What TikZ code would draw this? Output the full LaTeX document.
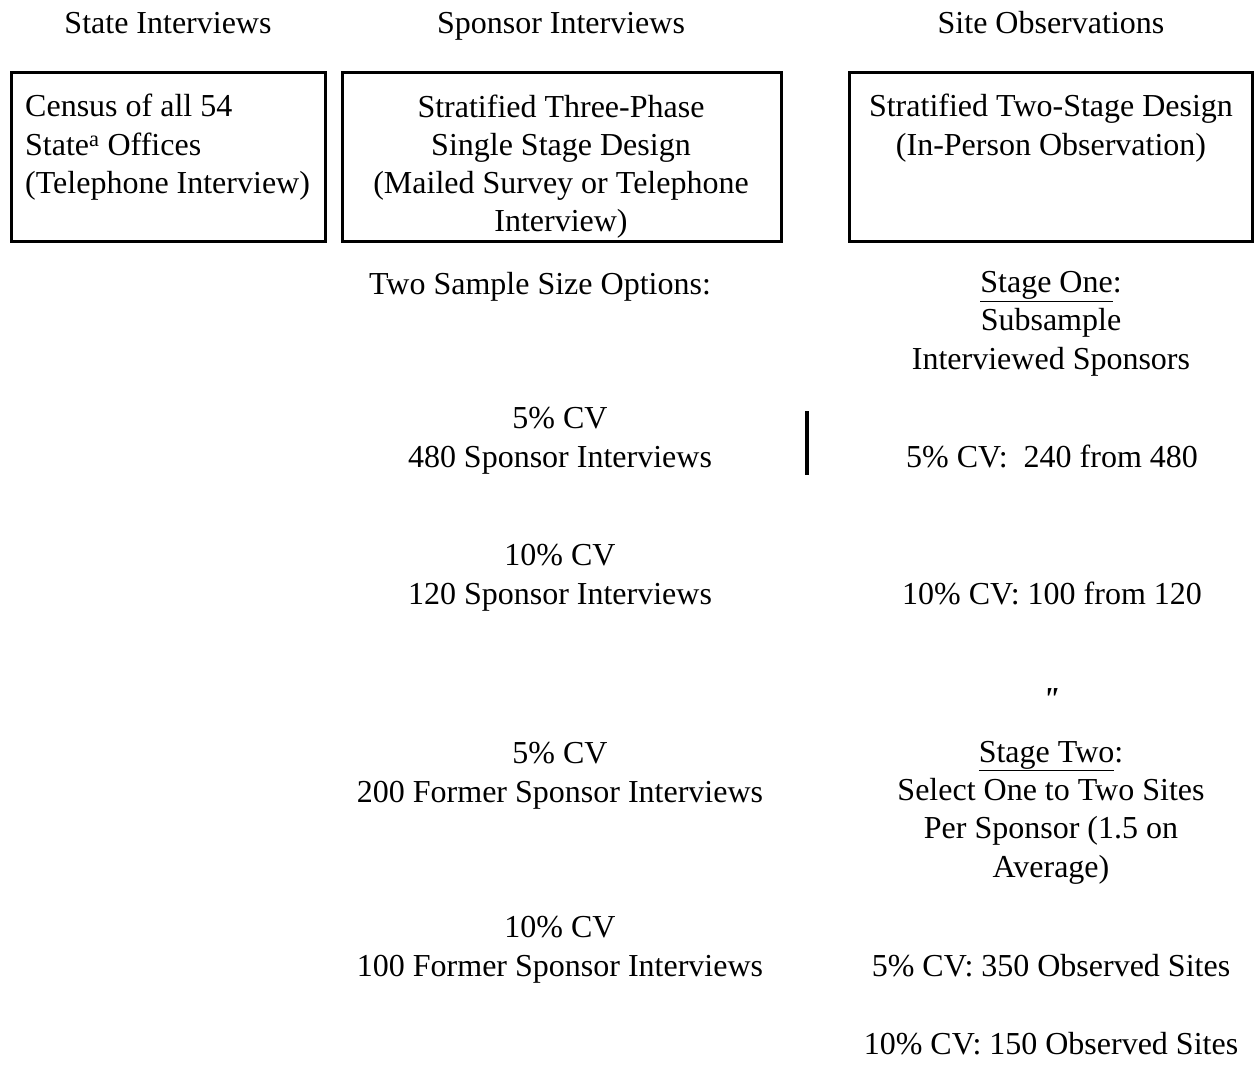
\documentclass[tikz,border=0pt]{standalone}
\usepackage{fontspec}
\setmainfont{Liberation Serif}
\usetikzlibrary{positioning}

\begin{document}
\begin{tikzpicture}[
    x=1pt, y=-1pt,
    every node/.style={inner sep=0pt, anchor=base, align=center, font=\fontsize{32}{38.3}\selectfont},
    frame/.style={draw, line width=3pt, anchor=center, minimum width=#1, minimum height=169pt}
    ]
    \useasboundingbox (0,0) rectangle (1255,1078);

    % Заголовки
    \node (stateHead) at (168,34) {State Interviews};
    \node (sponsorHead) at (561,34) {Sponsor Interviews};
    \node (siteHead) at (1051,34) {Site Observations};

    % Рамки
    \node[frame=314pt] (stateBox) at (168.5,157) {};
    \node[frame=439pt] (sponsorBox) at (562,157) {};
    \node[frame=403pt] (siteBox) at (1051,157) {};

    % (base = остання лінія)
    \node[anchor=base west, align=left] (censusText) at (25,193.6) {Census of all 54\\State\textsuperscript{a} Offices\\(Telephone Interview)};
    \node (threePhaseText) at (561,231.9) {Stratified Three-Phase\\Single Stage Design\\(Mailed Survey or Telephone\\Interview)};
    \node (twoStageText) at (1051,155.3) {Stratified Two-Stage Design\\(In-Person Observation)};

    % Спонсори
    \node (sizeOptions) at (540,294) {Two Sample Size Options:};
    \node (cv5sponsor) at (560,467) {5\% CV\\480 Sponsor Interviews};
    \node (cv10sponsor) at (560,604) {10\% CV\\120 Sponsor Interviews};
    \node (cv5former) at (560,802) {5\% CV\\200 Former Sponsor Interviews};
    \node (cv10former) at (560,976) {10\% CV\\100 Former Sponsor Interviews};

    % Спостереження
    \node (stageOne) at (1051,369) {\underline{Stage One}:\\Subsample\\Interviewed Sponsors};
    \node (subsample5) at (1052,467) {5\% CV:\ \ 240 from 480};
    \node (subsample10) at (1052,604) {10\% CV: 100 from 120};
    \node (ditto) at (1051,709) {\bfseries\itshape\textquotedbl};
    \node (stageTwo) at (1051,877) {\underline{Stage Two}:\\Select One to Two Sites\\Per Sponsor (1.5 on\\Average)};
    \node (sites5) at (1051,976) {5\% CV: 350 Observed Sites};
    \node (sites10) at (1051,1054) {10\% CV: 150 Observed Sites};

    % Лінія
    \coordinate (barTop) at (807,411);
    \coordinate (barBottom) at (807,475);
    \draw[line width=3.5pt] (barTop) -- (barBottom);

\end{tikzpicture}
\end{document}
